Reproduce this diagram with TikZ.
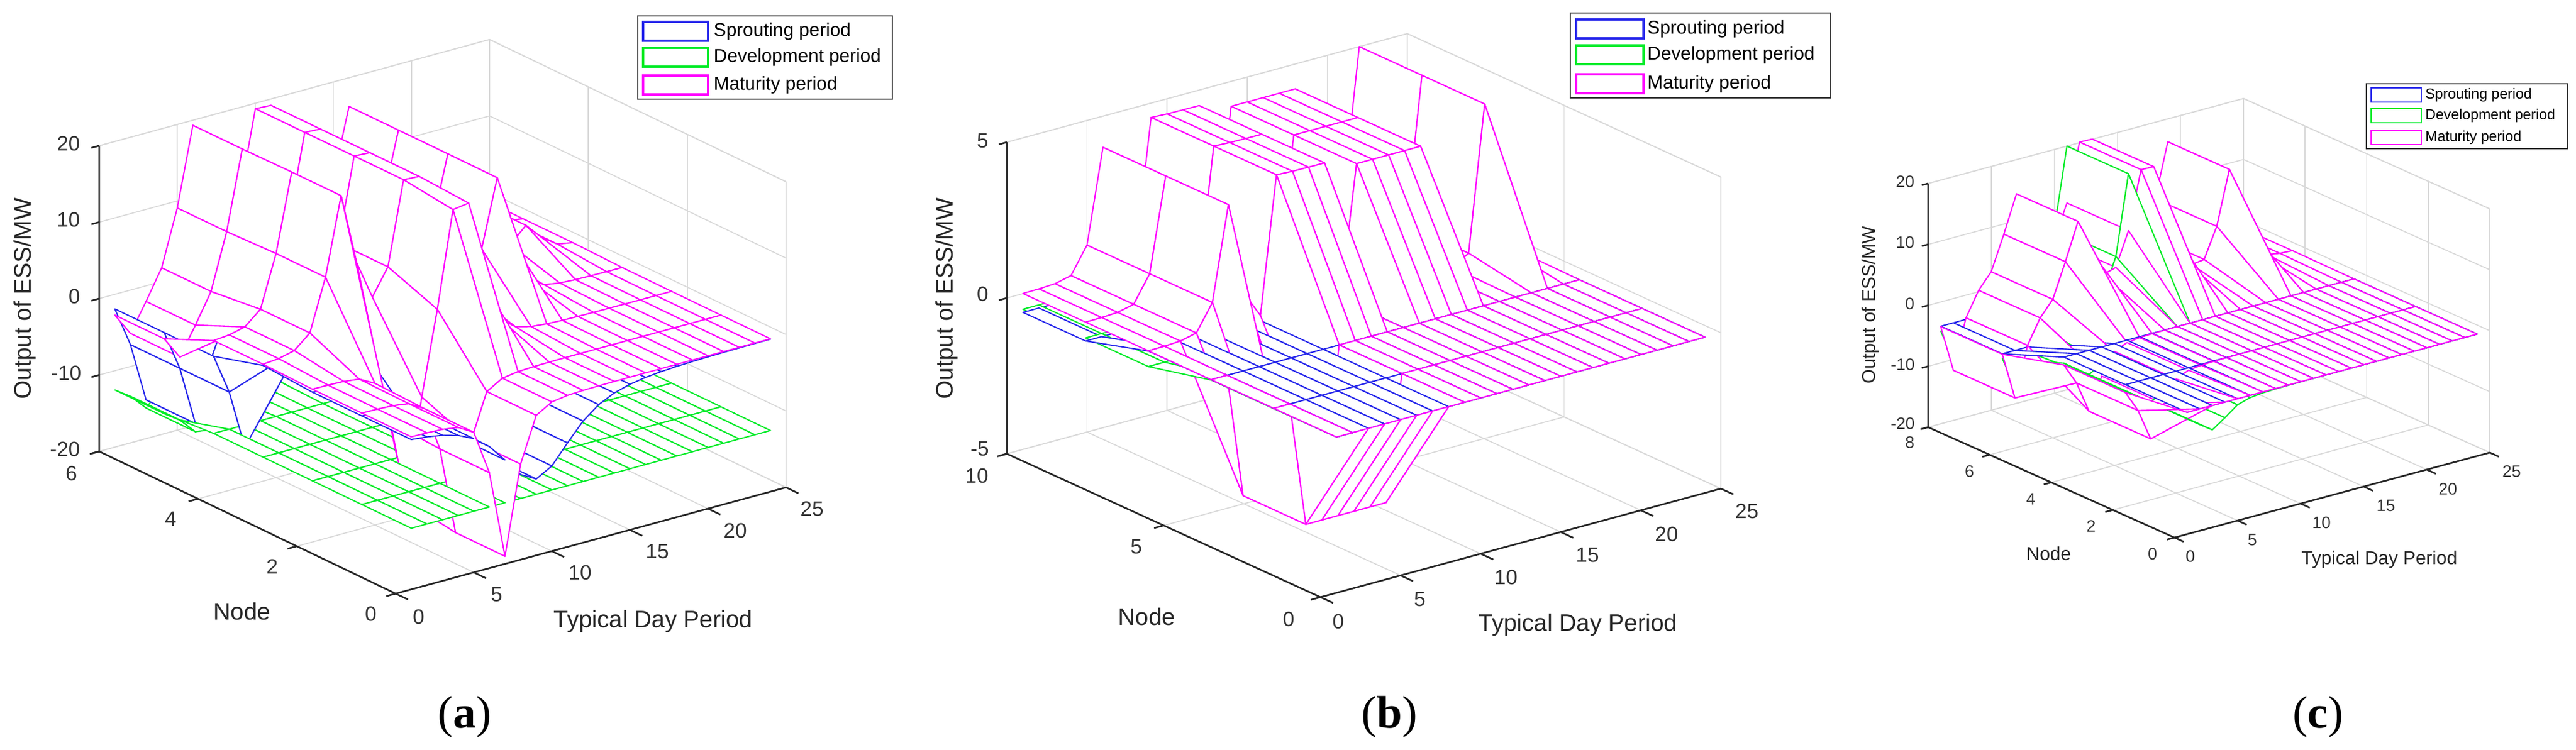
\documentclass[tikz,border=0pt]{standalone}
\usepackage{fontspec}
\setmainfont{Liberation Sans}
\newfontfamily\capfont{Liberation Serif}
\definecolor{mblue}{RGB}{40,40,235}
\definecolor{mgreen}{RGB}{0,235,40}
\definecolor{mmag}{RGB}{255,0,255}
\tikzset{
  gridl/.style={draw=black!15,line width=0.5pt},
  axisl/.style={draw=black!85,line width=0.8pt},
  wire/.style={fill=white,line width=0.6pt,line join=round},
  tk/.style={font=\fontsize{10}{12}\selectfont,text=black!80,inner sep=0pt},
  tks/.style={font=\fontsize{8}{10}\selectfont,text=black!80,inner sep=0pt},
  ttl/.style={font=\fontsize{11.5}{13}\selectfont,text=black!85,inner sep=0pt},
  ttls/.style={font=\fontsize{9}{11}\selectfont,text=black!85,inner sep=0pt},
  leg/.style={draw=black!80,fill=white,line width=0.8pt},
  legt/.style={font=\fontsize{9}{11}\selectfont,anchor=west,inner sep=0pt},
  legts/.style={font=\fontsize{7}{9}\selectfont,anchor=west,inner sep=0pt},
  captxt/.style={font=\capfont\fontsize{22}{26}\selectfont,inner sep=0pt},
  declare function={
    bq(\x)=1/(1+(\x)*(\x));
    bp(\x)=bq(\x)*bq(\x);
    Ma(\t,\n)=19*bp((\t-6)/1.5)*(\n>=3)+22*bp((\t-10.5)/1.8)*(\n>=2)+16*bp((\t-16)/1.4)*(\n>=3)-19*bp((\t-7)/1.3)*(\n<=2)+4*bp((\t-21)/1.5)*(\n>=4)-6*bp((\t-2)/1.5)*(\n>=5);
    Ba(\t,\n)=(\n>=4)*(-15*bp((\t-3)/1.5)+16*bp((\t-12)/2.5))-10*(\n<=2)*bp((\t-9)/4);
    Ga(\t,\n)=-12+6*bp((\t-12)/2)*(\n>=5)-4*bp((\t-3)/1.5)*(\n>=5);
    Mb(\t,\n)=(\n>=6)*(4*bp((\t-6)/1)+4.5*(\t>=9)*(\t<=12)+4.2*(\t>=14)*(\t<=18)+5*bp((\t-22)/0.6))-(\n>=2)*(\n<=4)*4*(\t>=3)*(\t<=8);
    Bb(\t,\n)=-0.6*(\n>=8)*(\t<=9)+0.8*(\n>=8)*(\t>=19)*(\t<=21);
    Gb(\t,\n)=-0.5*(\n>=6)*(\t<=4)-3*bp((\t-5)/1)*(\n<=4)*(\n>=2);
    Mc(\t,\n)=(\n>=6)*(14*bp((\t-7)/1.8)+22*bp((\t-12.5)/2.2)+16*bp((\t-19)/1.4)-12*bp((\t-2)/1.2))-(\n>=2)*(\n<=4)*10*bp((\t-3)/1.5);
    Bc(\t,\n)=(\n>=6)*(-4+8*bp((\t-11)/2)+6*bp((\t-18)/1.5));
    Gc(\t,\n)=(\n>=6)*(20*bp((\t-11)/1.2)-10*bp((\t-2)/1.5))-4*(\n<=4)*bp((\t-3)/2);
  }
}
% #1 N, #2 node ticks, #3 height, #4 z grid offsets, #5 tick len (node units)
\newcommand\plotaxes[5]{%
  \foreach \kt in {0,5,...,25}{\draw[gridl] (\kt,#1,0)--(\kt,#1,#3); \draw[gridl] (\kt,0,0)--(\kt,#1,0);}
  \foreach \kn in {#2}{\draw[gridl] (25,\kn,0)--(25,\kn,#3); \draw[gridl] (0,\kn,0)--(25,\kn,0);}
  \foreach \kz in {#4}{\draw[gridl] (0,#1,\kz)--(25,#1,\kz)--(25,0,\kz);}
  \draw[gridl] (0,#1,#3)--(25,#1,#3)--(25,0,#3);
  \draw[axisl] (0,#1,#3)--(0,#1,0)--(0,0,0)--(25,0,0);
  \foreach \kz in {#4}{\draw[axisl] (0,#1,\kz)--(-0.5,#1,\kz);}
  \foreach \kn in {#2}{\draw[axisl] (0,\kn,0)--(-0.6,\kn,0);}
  \foreach \kt in {0,5,...,25}{\draw[axisl] (\kt,0,0)--(\kt,-#5,0);}
}
% #1 node list (descending), #2 step, #3 zmin, #4 M, #5 B, #6 G
\newcommand\surfs[6]{%
  \foreach \n in {#1}{
    \foreach \t in {23,...,1}{
      \pgfmathsetmacro\tp{\t+1}\pgfmathsetmacro\np{\n+#2}
      \filldraw[wire,draw=mgreen] (\t,\n,{#6(\t,\n)-#3})--(\tp,\n,{#6(\tp,\n)-#3})--(\tp,\np,{#6(\tp,\np)-#3})--(\t,\np,{#6(\t,\np)-#3})--cycle;
      \filldraw[wire,draw=mblue] (\t,\n,{#5(\t,\n)-#3})--(\tp,\n,{#5(\tp,\n)-#3})--(\tp,\np,{#5(\tp,\np)-#3})--(\t,\np,{#5(\t,\np)-#3})--cycle;
      \filldraw[wire,draw=mmag] (\t,\n,{#4(\t,\n)-#3})--(\tp,\n,{#4(\tp,\n)-#3})--(\tp,\np,{#4(\tp,\np)-#3})--(\t,\np,{#4(\t,\np)-#3})--cycle;
    }
  }
}
\begin{document}
\begin{tikzpicture}
\useasboundingbox[fill=white] (0,0) rectangle (43.62,12.70);
%% ---------- panel a ----------
\begin{scope}[shift={(6.70,2.64)},x={(0.2644cm,0.072cm)},y={(-0.8367cm,0.4017cm)},z={(0cm,0.1295cm)}]
  \plotaxes{6}{0,2,4,6}{40}{0,10,20,30,40}{0.25}
  \surfs{5,4,3,2,1,0}{1}{-20}{Ma}{Ba}{Ga}
\end{scope}
\foreach \v/\px/\py [count=\i] in {20/1.16/10.27,10/1.16/8.98,0/1.26/7.68,-10/1.12/6.38,-20/1.10/5.09}
  \node[tk] (az\i) at (\px,\py) {\v};
\foreach \v/\px/\py [count=\i] in {6/1.21/4.68,4/2.89/3.91,2/4.61/3.10,0/6.28/2.30}
  \node[tk] (an\i) at (\px,\py) {\v};
\foreach \v/\px/\py [count=\i] in {0/7.09/2.25,5/8.41/2.62,10/9.82/3.00,15/11.13/3.35,20/12.45/3.71,25/13.75/4.08}
  \node[tk] (at\i) at (\px,\py) {\v};
\node[ttl] (anode) at (4.10,2.34) {Node};
\node[ttl] (atdp) at (11.06,2.17) {Typical Day Period};
\node[ttl,rotate=90] (aylab) at (0.42,7.64) {Output of ESS/MW};
\node[captxt] (capa) at (7.87,0.55) {(\textbf{a})};
\draw[leg] (10.80,11.02) rectangle (15.11,12.43);
\foreach \c/\y/\txt [count=\i] in {mblue/12.17/Sprouting period,mgreen/11.73/Development period,mmag/11.26/Maturity period}{
  \draw[\c,line width=0.9pt] (10.89,\y-0.16) rectangle (11.99,\y+0.16);
  \node[legt] (la\i) at (12.08,\y) {\txt};}
%% ---------- panel b ----------
\begin{scope}[shift={(22.36,2.58)},x={(0.2712cm,0.0736cm)},y={(-0.531cm,0.243cm)},z={(0cm,0.528cm)}]
  \plotaxes{10}{0,5,10}{10}{0,5,10}{0.4}
  \surfs{8,6,4,2,0}{2}{-5}{Mb}{Bb}{Gb}
\end{scope}
\foreach \v/\px/\py [count=\i] in {5/16.64/10.31,0/16.64/7.72,-5/16.59/5.09}
  \node[tk] (bz\i) at (\px,\py) {\v};
\foreach \v/\px/\py [count=\i] in {10/16.54/4.64,5/19.24/3.43,0/21.82/2.21}
  \node[tk] (bn\i) at (\px,\py) {\v};
\foreach \v/\px/\py [count=\i] in {0/22.66/2.17,5/24.04/2.54,10/25.50/2.92,15/26.88/3.29,20/28.22/3.65,25/29.58/4.04}
  \node[tk] (bt\i) at (\px,\py) {\v};
\node[ttl] (bnode) at (19.42,2.25) {Node};
\node[ttl] (btdp) at (26.72,2.11) {Typical Day Period};
\node[ttl,rotate=90] (bylab) at (16.03,7.64) {Output of ESS/MW};
\node[captxt] (capb) at (23.53,0.55) {(\textbf{b})};
\draw[leg] (26.59,11.04) rectangle (31.00,12.48);
\foreach \c/\y/\txt [count=\i] in {mblue/12.21/Sprouting period,mgreen/11.77/Development period,mmag/11.28/Maturity period}{
  \draw[\c,line width=0.9pt] (26.69,\y-0.16) rectangle (27.83,\y+0.16);
  \node[legt] (lb\i) at (27.89,\y) {\txt};}
%% ---------- panel c ----------
\begin{scope}[shift={(36.82,3.59)},x={(0.2136cm,0.0576cm)},y={(-0.5213cm,0.2338cm)},z={(0cm,0.10325cm)}]
  \plotaxes{8}{0,2,4,6,8}{40}{0,10,20,30,40}{0.3}
  \surfs{6,4,2,0}{2}{-20}{Mc}{Bc}{Gc}
\end{scope}
\foreach \v/\px/\py [count=\i] in {20/32.26/9.62,10/32.26/8.59,0/32.34/7.55,-10/32.22/6.52,-20/32.22/5.52}
  \node[tks] (cz\i) at (\px,\py) {\v};
\foreach \v/\px/\py [count=\i] in {8/32.34/5.20,6/33.35/4.71,4/34.39/4.24,2/35.41/3.78,0/36.45/3.31}
  \node[tks] (cn\i) at (\px,\py) {\v};
\foreach \v/\px/\py [count=\i] in {0/37.09/3.27,5/38.14/3.55,10/39.31/3.84,15/40.40/4.13,20/41.45/4.41,25/42.53/4.71}
  \node[tks] (ct\i) at (\px,\py) {\v};
\node[ttls] (cnode) at (34.69,3.32) {Node};
\node[ttls] (ctdp) at (40.29,3.22) {Typical Day Period};
\node[ttls,rotate=90] (cylab) at (31.67,7.53) {Output of ESS/MW};
\node[captxt] (capc) at (39.25,0.55) {(\textbf{c})};
\draw[leg] (40.07,10.18) rectangle (43.48,11.28);
\foreach \c/\y/\txt [count=\i] in {mblue/11.09/Sprouting period,mgreen/10.74/Development period,mmag/10.37/Maturity period}{
  \draw[\c,line width=0.8pt] (40.15,\y-0.12) rectangle (41.00,\y+0.12);
  \node[legts] (lc\i) at (41.06,\y) {\txt};}
\end{tikzpicture}
\end{document}
